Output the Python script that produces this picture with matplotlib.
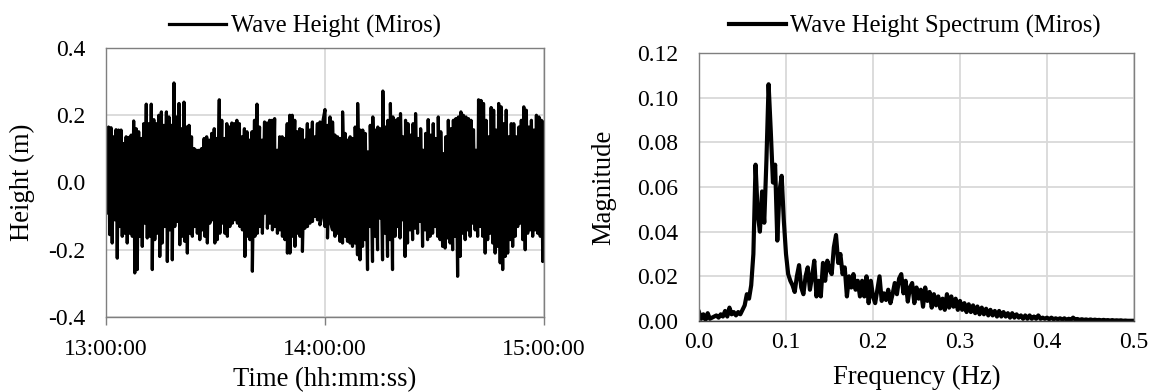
import numpy as np
import pandas as pd
import matplotlib
matplotlib.use('Agg')
import matplotlib.pyplot as plt
import matplotlib.dates as mdates

# wave height record 13:00-15:00, successive crests and troughs (m)
crest_m = [0.12, 0.165, 0.163, 0.136, 0.157, 0.156, 0.156, 0.116, 0.136, 0.134, 0.141, 0.183, 0.16, 0.151,
           0.131, 0.175, 0.233, 0.175, 0.233, 0.187, 0.175, 0.2, 0.21, 0.17, 0.21, 0.195, 0.17, 0.296, 0.195,
           0.235, 0.16, 0.239,
           0.165, 0.170, 0.136, 0.101, 0.096, 0.096, 0.101, 0.131, 0.136, 0.126, 0.146, 0.160, 0.131, 0.246,
           0.185, 0.131, 0.175, 0.165, 0.177, 0.175, 0.185, 0.175, 0.136, 0.160, 0.151, 0.126, 0.151, 0.185,
           0.233, 0.165, 0.126, 0.180, 0.177, 0.185, 0.185, 0.190, 0.096, 0.136, 0.136, 0.131, 0.175, 0.200,
           0.200, 0.185, 0.151, 0.160, 0.157, 0.126, 0.175, 0.156, 0.180, 0.136, 0.175, 0.180, 0.175, 0.217,
           0.170, 0.195, 0.180, 0.141, 0.136, 0.131, 0.210, 0.146, 0.126, 0.136, 0.131, 0.165, 0.235, 0.156,
           0.156, 0.146, 0.091, 0.170, 0.195, 0.156, 0.165, 0.160, 0.272, 0.165, 0.185, 0.235, 0.195,
           0.185, 0.190, 0.205, 0.136, 0.185, 0.175, 0.141, 0.175, 0.205, 0.131, 0.160, 0.096, 0.146, 0.187,
           0.141, 0.175, 0.131, 0.195, 0.151, 0.086, 0.136, 0.185, 0.160, 0.185, 0.190, 0.195, 0.210, 0.200,
           0.195, 0.190, 0.185, 0.157, 0.096, 0.246, 0.244, 0.235, 0.185, 0.136, 0.223, 0.215, 0.156,
           0.235, 0.225, 0.175, 0.215, 0.136, 0.175, 0.175, 0.136, 0.165, 0.185, 0.225, 0.215, 0.165, 0.185,
           0.156, 0.200, 0.195, 0.185, 0.180]
trough_m = [-0.091, -0.155, -0.18, -0.111, -0.225, -0.131, -0.16, -0.151, -0.18, -0.151, -0.16, -0.269,
            -0.259, -0.16, -0.19, -0.121, -0.165, -0.16, -0.259, -0.17, -0.151, -0.22, -0.18, -0.131, -0.235,
            -0.141, -0.23, -0.131, -0.116, -0.185, -0.16, -0.175, -0.21,
            -0.151, -0.160, -0.131, -0.151, -0.170, -0.141, -0.160, -0.180, -0.121, -0.111, -0.180, -0.170,
            -0.151, -0.121, -0.151, -0.160, -0.131, -0.121, -0.111, -0.121, -0.131, -0.141, -0.220, -0.160,
            -0.170, -0.264, -0.160, -0.151, -0.131, -0.151, -0.091, -0.136, -0.121, -0.141, -0.131, -0.151,
            -0.141, -0.160, -0.170, -0.210,
            -0.210, -0.160, -0.190, -0.151, -0.160, -0.205, -0.136, -0.131, -0.121, -0.116, -0.101, -0.111,
            -0.126, -0.091, -0.131, -0.165, -0.111, -0.141, -0.160, -0.151, -0.175, -0.180, -0.160, -0.175,
            -0.180, -0.190, -0.180, -0.215, -0.230, -0.190, -0.170, -0.259, -0.131, -0.235, -0.160, -0.200,
            -0.106, -0.230, -0.151, -0.220, -0.170,
            -0.259, -0.160, -0.131, -0.165, -0.111, -0.220, -0.180, -0.141, -0.170, -0.136, -0.151, -0.116,
            -0.190, -0.141, -0.170, -0.160, -0.151, -0.131, -0.160, -0.170, -0.190, -0.195, -0.165, -0.180,
            -0.200, -0.160, -0.279, -0.220, -0.151, -0.170, -0.141, -0.160, -0.121, -0.141, -0.160, -0.131,
            -0.160, -0.210, -0.170, -0.151, -0.180,
            -0.210, -0.190, -0.239, -0.259, -0.220, -0.210, -0.170, -0.190, -0.160, -0.131, -0.121, -0.170,
            -0.200, -0.151, -0.141, -0.160, -0.141, -0.151, -0.160, -0.235]

# wave height spectrum, 0.0025 Hz bins from 0 to 0.5 Hz
freq_hz = np.round(np.arange(201) * 0.0025, 4)
spec_mag = [0.004, 0.001, 0.003, 0.0005, 0.0035, 0.001, 0.0015, 0.002, 0.0025, 0.0015,
            0.003, 0.002, 0.0045, 0.002, 0.006, 0.003, 0.004, 0.0025, 0.004, 0.003,
            0.005, 0.007, 0.012, 0.010, 0.016, 0.030, 0.070, 0.048, 0.040, 0.058,
            0.044, 0.072, 0.106, 0.085, 0.062, 0.070, 0.036, 0.058, 0.065, 0.045,
            0.030, 0.021, 0.018, 0.016, 0.013, 0.020, 0.025, 0.015, 0.012, 0.020,
            0.024, 0.014, 0.020, 0.027, 0.011, 0.018, 0.011, 0.026, 0.018, 0.027,
            0.023, 0.021, 0.033, 0.0385, 0.026, 0.030, 0.021, 0.024, 0.011, 0.020,
            0.015, 0.021, 0.014, 0.018, 0.011, 0.018, 0.011, 0.020, 0.008, 0.018,
            0.011, 0.008, 0.014, 0.020, 0.009, 0.0124, 0.0094, 0.014, 0.008, 0.012,
            0.017, 0.012, 0.019, 0.021, 0.0124, 0.018, 0.0087, 0.015, 0.017, 0.008,
            0.015, 0.010, 0.014, 0.0064, 0.015, 0.009, 0.013, 0.006, 0.012, 0.007,
            0.011, 0.0056, 0.010, 0.005, 0.012, 0.006, 0.011, 0.0064, 0.010, 0.005,
            0.009, 0.005, 0.008, 0.004, 0.0075, 0.004, 0.007, 0.0035, 0.0065, 0.003,
            0.006, 0.003, 0.0055, 0.0025, 0.005, 0.0025, 0.0045, 0.002, 0.0045, 0.002,
            0.004, 0.002, 0.0035, 0.0015, 0.0035, 0.0015, 0.003, 0.0015, 0.0025, 0.001,
            0.0025, 0.001, 0.0025, 0.001, 0.002, 0.001, 0.0025, 0.001, 0.0015, 0.001,
            0.0015, 0.0008, 0.0015, 0.0008, 0.0012, 0.0008, 0.0012, 0.0007, 0.0012, 0.0006,
            0.001, 0.0006, 0.0015, 0.0006, 0.0009, 0.0005, 0.0008, 0.0005, 0.0007, 0.0004,
            0.0007, 0.0004, 0.0006, 0.0004, 0.0005, 0.0003, 0.0005, 0.0003, 0.0004, 0.0002,
            0.0004, 0.0002, 0.0003, 0.0002, 0.0003, 0.0001, 0.0002, 0.0001, 0.0001, 0.0001,
            0.0001]

t0 = pd.Timestamp('2020-01-01 13:00:00')
t1 = pd.Timestamp('2020-01-01 15:00:00')
span = t1 - t0
crest_t = t0 + span * (np.arange(len(crest_m)) / (len(crest_m) - 1))
trough_t = t0 + span * ((np.arange(len(trough_m)) + 0.5) / len(trough_m))
wave = pd.concat([
    pd.DataFrame({'t': crest_t, 'h': crest_m}),
    pd.DataFrame({'t': trough_t, 'h': trough_m}),
]).sort_values('t')

plt.rcParams['font.family'] = ['Liberation Serif', 'DejaVu Serif']
grid_c = '#d9d9d9'
frame_c = '#7f7f7f'
tick_fs, lab_fs, leg_fs = 17, 19.2, 17.7

fig = plt.figure(figsize=(11.5, 3.92), dpi=100)
ax1 = fig.add_axes([106/1150, 1-317/392, 438/1150, 269/392])
ax2 = fig.add_axes([699/1150, 1-321/392, 435/1150, 268/392])

# left: time series
ax1.plot(wave['t'], wave['h'], color='black', lw=2.3, label='Wave Height (Miros)')
ax1.set_xlim(t0, t1)
ax1.set_ylim(-0.4, 0.4)
ax1.set_yticks([-0.4, -0.2, 0.0, 0.2, 0.4])
ax1.yaxis.set_major_formatter(matplotlib.ticker.FormatStrFormatter('%.1f'))
ax1.xaxis.set_major_locator(mdates.HourLocator())
ax1.xaxis.set_major_formatter(mdates.DateFormatter('%H:%M:%S'))
ax1.grid(True, color=grid_c, lw=1.3)
ax1.set_axisbelow(True)
ax1.tick_params(axis='y', length=0, pad=15, labelsize=tick_fs)
ax1.tick_params(axis='x', length=6, width=1, color=frame_c, pad=10, labelsize=tick_fs)
ax1.set_xlabel('Time (hh:mm:ss)', fontsize=lab_fs)
ax1.set_ylabel('Height (m)', fontsize=lab_fs)
ax1.xaxis.set_label_coords(0.5, -0.185)
ax1.yaxis.set_label_coords(-0.162, 0.5)
ax1.legend(loc='center', bbox_to_anchor=(305/1150, 1-26/392), bbox_transform=fig.transFigure,
           frameon=False, fontsize=leg_fs, handlelength=2.3, handletextpad=0.2)

# right: spectrum
ax2.plot(freq_hz, spec_mag, color='black', lw=3.0, label='Wave Height Spectrum (Miros)')
ax2.set_xlim(0, 0.5)
ax2.set_ylim(0, 0.12)
ax2.set_xticks(np.arange(0, 0.51, 0.1))
ax2.set_yticks(np.arange(0, 0.121, 0.02))
ax2.xaxis.set_major_formatter(matplotlib.ticker.FormatStrFormatter('%.1f'))
ax2.yaxis.set_major_formatter(matplotlib.ticker.FormatStrFormatter('%.2f'))
ax2.grid(True, color=grid_c, lw=1.3)
ax2.set_axisbelow(True)
ax2.tick_params(axis='y', length=0, pad=15, labelsize=tick_fs)
ax2.tick_params(axis='x', length=0, pad=8, labelsize=tick_fs)
ax2.set_xlabel('Frequency (Hz)', fontsize=lab_fs)
ax2.set_ylabel('Magnitude', fontsize=lab_fs)
ax2.xaxis.set_label_coords(0.5, -0.165)
ax2.yaxis.set_label_coords(-0.191, 0.5)
ax2.legend(loc='center', bbox_to_anchor=(915/1150, 1-26/392), bbox_transform=fig.transFigure,
           frameon=False, fontsize=leg_fs, handlelength=2.3, handletextpad=0.2)

for ax in (ax1, ax2):
    for s in ax.spines.values():
        s.set_color(frame_c)
        s.set_linewidth(1.0)
ax2.spines['bottom'].set_color('#404040')

fig.savefig('out.png', dpi=100)
